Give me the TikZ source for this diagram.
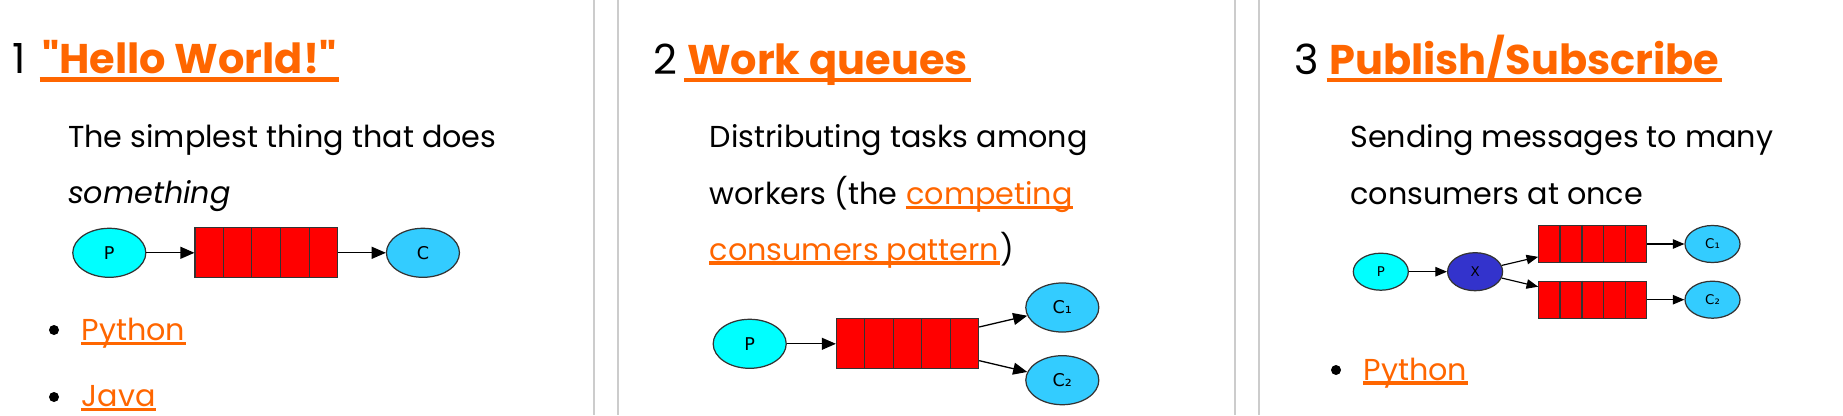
\documentclass[tikz,border=0pt]{standalone}
\usepackage{fontspec}
\setmainfont{Poppins}[Ligatures=TeXOff]
\newfontfamily\dotfont{DejaVu Sans}
\usetikzlibrary{arrows.meta, shapes.geometric, calc, positioning}

\definecolor{linkorange}{HTML}{FF6600}
\definecolor{prodcyan}{HTML}{00FFFF}
\definecolor{consblue}{HTML}{33CCFF}
\definecolor{queuered}{HTML}{FF0000}
\definecolor{exchblue}{HTML}{3333CC}
\definecolor{rulegray}{HTML}{CCCCCC}

\newcommand{\headfont}{\fontsize{11.8pt}{13pt}\selectfont}
\newcommand{\bodyfont}{\fontsize{8.6pt}{10pt}\selectfont}

\begin{document}
\begin{tikzpicture}[
        x=0.01cm, y=-0.01cm,
        >={Triangle[length=4pt, width=3.4pt]},
        head/.style={anchor=base west, inner sep=0pt, font=\headfont},
        body/.style={anchor=base west, inner sep=0pt, font=\bodyfont},
        uline/.style={draw=linkorange, line width=0.95pt},
        link/.style={text=linkorange, append after command={
            \pgfextra{\let\lnknode\tikzlastnode}
            ($(\lnknode.base west)+(0,3)$) edge[uline] ($(\lnknode.base east)+(0,3)$)}},
        head link/.style={text=linkorange, font=\headfont\bfseries, append after command={
            \pgfextra{\let\lnknode\tikzlastnode}
            ($(\lnknode.base west)+(-2,6.2)$) edge[uline, line width=1.2pt] ($(\lnknode.base east)+(2,6.2)$)}},
        bullet/.style={circle, fill=black, inner sep=0pt, minimum size=0.10cm},
        prod/.style={ellipse, draw=black!80, line width=0.35pt, fill=prodcyan,
            minimum width=0.73cm, minimum height=0.49cm, inner sep=0pt,
            font=\dotfont\fontsize{5pt}{6pt}\selectfont},
        cons/.style={prod, fill=consblue},
        exch/.style={prod, fill=exchblue},
        queue/.style={rectangle, draw=black!80, line width=0.35pt, fill=queuered,
            minimum width=1.42cm, minimum height=0.50cm, inner sep=0pt},
        small/.style={minimum width=0.55cm, minimum height=0.37cm,
            font=\dotfont\fontsize{3.8pt}{4.5pt}\selectfont},
        small queue/.style={minimum width=1.08cm, minimum height=0.37cm},
        msg/.style={->, line width=0.37pt},
        small msg/.style={-{Triangle[length=3.3pt, width=2.7pt]}, line width=0.33pt},
        cell/.style={draw=black!80, line width=0.35pt}
    ]

        % === PAGE & COLUMN RULES ===
        \useasboundingbox (0,0) rectangle (1843,415);
        \fill[white] (0,0) rectangle (1843,415);
        \foreach \xr in {594,618,1235,1259}
            \draw[rulegray, line width=0.57pt] (\xr,0) -- (\xr,415);

        % === 1. HELLO WORLD ===
        \node[head] (n1) at (11.7,73.3) {1};
        \node[head, head link] (h1) at (41.5,73.3) {"Hello World!"};
        \node[body] (t1a) at (67.4,147.7) {The simplest thing that does};
        \node[body] (t1b) at (67.4,203.3) {\textit{something}};

        \node[prod] (p1) at (109.3,252.8) {P};
        \node[queue, right=0.48cm of p1] (q1) {};
        \node[cons, right=0.48cm of q1] (c1) {C};
        \draw[msg] (p1) -- (q1);
        \draw[msg] (q1) -- (c1);

        \node[bullet] (b1a) at (54,330) {};
        \node[body, link] (l1a) at (81,340.5) {Python};
        \node[bullet] (b1b) at (54,397) {};
        \node[body, link] (l1b) at (81,406.7) {Java};

        % === 2. WORK QUEUES ===
        \node[head] (n2) at (652.4,74) {2};
        \node[head, head link] (h2) at (686.4,74) {Work queues};
        \node[body] (t2a) at (709,147.7) {Distributing tasks among};
        \node[body] (t2b) at (709,204.3) {workers (the};
        \node[body, link] (t2l) at ($(t2b.base east)+(7.5,0)$) {competing};
        \node[body, link] (t2c) at (709,260) {consumers pattern};
        \node[body] (t2p) at (t2c.base east) {)};

        \node[prod] (p2) at (749.7,343.8) {P};
        \node[queue, right=0.49cm of p2] (q2) {};
        \node[cons] (c2a) at (1062.3,307.5) {C₁};
        \node[cons] (c2b) at (1062.3,380.2) {C₂};
        \draw[msg] (p2) -- (q2);
        \draw[msg] (q2) -- (c2a);
        \draw[msg] (q2) -- (c2b);

        % === 3. PUBLISH/SUBSCRIBE ===
        \node[head] (n3) at (1293.8,74) {3};
        \node[head, head link] (h3) at (1328.5,74) {Publish/Subscribe};
        \node[body] (t3a) at (1349.6,147.7) {Sending messages to many};
        \node[body] (t3b) at (1349.6,204) {consumers at once};

        \node[prod, small] (p3) at (1380.8,271.7) {P};
        \node[exch, small, minimum height=0.38cm, right=0.38cm of p3] (x3) {X};
        \node[queue, small queue] (q3a) at (1592.8,244) {};
        \node[queue, small queue] (q3b) at (1592.8,299.7) {};
        \node[cons, small] (c3a) at (1712.5,244) {C₁};
        \node[cons, small] (c3b) at (1712.5,299.7) {C₂};
        \draw[small msg] (p3) -- (x3);
        \draw[small msg] (x3) -- (q3a);
        \draw[small msg] (x3) -- (q3b);
        \draw[small msg] (q3a) -- (c3a);
        \draw[small msg] (q3b) -- (c3b);

        \node[bullet] (b3a) at (1336,370) {};
        \node[body, link] (l3a) at (1363,380) {Python};

        % queue cells
        \foreach \q in {q1,q2,q3a,q3b}
            \foreach \i in {1,...,4}
                \draw[cell] ($(\q.north west)!\i/5!(\q.north east)$) -- ($(\q.south west)!\i/5!(\q.south east)$);

    \end{tikzpicture}
\end{document}
